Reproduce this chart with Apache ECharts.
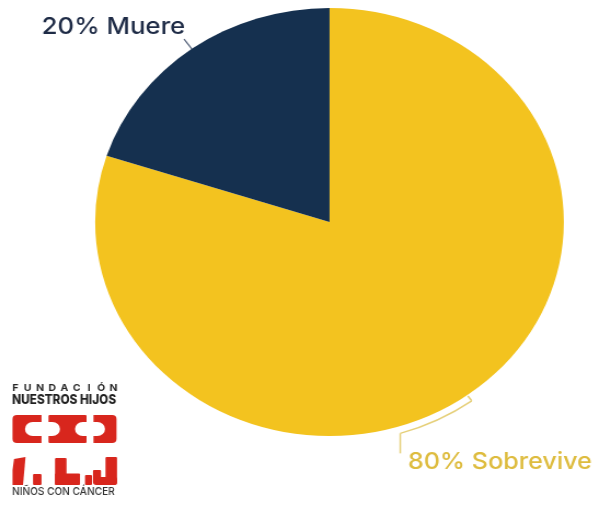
<!DOCTYPE html>
<html>
<head>
<meta charset="utf-8">
<script src="https://cdn.jsdelivr.net/npm/echarts@6/dist/echarts.min.js"></script>
<style>
  html, body { margin: 0; padding: 0; background: #fff; overflow: hidden; }
  #wrap { width: 595px; height: 506px; overflow: hidden; position: relative; }
  #chart { position: absolute; left: 0; top: 0; height: 506px; transform-origin: 0 0; }
</style>
</head>
<body>
<div id="wrap"><div id="chart"></div></div>
<script>
// Survival share of children with cancer
const categories = ['Sobrevive', 'Muere'];
const shares = [80, 20];

// Styling
const sliceColors = ['#F3C31F', '#15304F'];
const labelColors = ['#DEBC3E', '#1E2B46'];
const labelSizes = [23, 23.5];
const STRETCH = 1.095;            // the figure is drawn wider than tall
const W = 595, H = 506;

const el = document.getElementById('chart');
el.style.width = (W / STRETCH) + 'px';
el.style.transform = 'scaleX(' + STRETCH + ')';
const sx = v => v / STRETCH;      // page x -> chart x

const CX = sx(329.5), CY = 222, R = 214;

// clockwise angle (deg, from 12 o'clock) at the middle of each slice
const total = shares.reduce((a, b) => a + b, 0);
let acc = 0;
const midAngles = shares.map(v => { const m = acc + v / 2; acc += v; return m / total * 360; });
const polar = (deg, r) => {
  const a = deg * Math.PI / 180;
  return [CX + r * Math.sin(a), CY - r * Math.cos(a)];
};

// leader for the small slice: short radial stroke
const mLead0 = polar(midAngles[1], R);
const mLead1 = polar(midAngles[1], R + 12);

// bracket for the large slice: arc hugging the rim, then a drop
const arcR = R + 7, sweep = 19;
const bStart = midAngles[0], bEnd = midAngles[0] + sweep;
const tick0 = polar(bStart, R + 1), tick1 = polar(bStart, arcR);
const arcEnd = polar(bEnd, arcR);
const drop = 20;

const labelAnchors = [
  { x: arcEnd[0] + 7, y: arcEnd[1] + drop + 9, align: 'left' },
  { x: mLead1[0] + 1, y: mLead1[1] - 12, align: 'right' }
];

// logo pieces (page coordinates)
const RED = '#D8261D';
function rect(x, y, w, h, r, fill) {
  return { type: 'rect', silent: true, shape: { x: sx(x), y: y, width: sx(w), height: h, r: r || 0 }, style: { fill: fill || RED } };
}
function poly(pts, fill) {
  return { type: 'polygon', silent: true, shape: { points: pts.map(p => [sx(p[0]), p[1]]) }, style: { fill: fill || RED } };
}
const logo = [];
const fundLetters = 'FUNDACIÓN'.split('');
fundLetters.forEach((ch, i) => {
  logo.push({
    type: 'text', silent: true,
    x: sx(15.5 + i * (98 / (fundLetters.length - 1))), y: 388.5,
    style: { text: ch, fill: '#262626', font: '700 9.5px Inter', align: 'center', verticalAlign: 'middle' }
  });
});
logo.push({
  type: 'text', silent: true, x: sx(12), y: 400.5, scaleX: 0.83,
  style: { text: 'NUESTROS HIJOS', fill: '#1f1f1f', font: '800 13px Inter', align: 'left', verticalAlign: 'middle' }
});
logo.push({
  type: 'text', silent: true, x: sx(12), y: 492, scaleX: 0.84,
  style: { text: 'NIÑOS CON CÁNCER', fill: '#333333', font: '500 11px Inter', align: 'left', verticalAlign: 'middle' }
});
// top row: ( I )
logo.push(rect(12.5, 415, 29, 28, [4, 0, 0, 4]));
logo.push(rect(25, 422, 17, 14, [7, 0, 0, 7], '#fff'));
logo.push(rect(48.5, 415, 38, 28, 1));
logo.push(rect(47, 422, 13, 14, [0, 7, 7, 0], '#fff'));
logo.push(rect(75, 422, 13, 14, [7, 0, 0, 7], '#fff'));
logo.push(rect(93.5, 415, 23, 28, [0, 4, 4, 0]));
logo.push(rect(92, 422, 13, 14, [0, 7, 7, 0], '#fff'));
// bottom row: / . L . J
logo.push(poly([[14, 459], [25.5, 457], [23, 485], [12.5, 485], [12.5, 470]]));
logo.push(rect(33, 474, 8.5, 11, 1));
logo.push(rect(55, 458, 11.5, 27, 1));
logo.push(rect(55, 473.5, 25, 11.5, 1));
logo.push(rect(85, 475, 7, 10, 1));
logo.push(rect(105.5, 457, 11.5, 28, [1, 1, 3, 1]));
logo.push(rect(95, 477, 22, 8, 2));
logo.push(rect(93, 470, 8, 15, [1, 1, 1, 3]));

const chart = echarts.init(el, null, { renderer: 'canvas' });
chart.setOption({
  animation: false,
  backgroundColor: '#ffffff',
  color: sliceColors,
  series: [{
    type: 'pie',
    center: [CX, CY],
    radius: R,
    startAngle: 90,
    clockwise: true,
    avoidLabelOverlap: false,
    silent: true,
    itemStyle: { borderWidth: 0 },
    emphasis: { disabled: true },
    label: {
      show: true,
      position: 'outside',
      fontFamily: 'Inter',
      fontWeight: 500,
      formatter: p => p.value + '% ' + p.name
    },
    labelLine: { show: false },
    labelLayout: p => {
      const a = labelAnchors[p.dataIndex];
      return { x: a.x, y: a.y, align: a.align, verticalAlign: 'middle' };
    },
    data: categories.map((name, i) => ({
      name, value: shares[i],
      label: { color: labelColors[i], fontSize: labelSizes[i] }
    }))
  }],
  graphic: [
    { type: 'line', silent: true, shape: { x1: mLead0[0], y1: mLead0[1], x2: mLead1[0], y2: mLead1[1] },
      style: { stroke: '#55627a', lineWidth: 1.2 } },
    { type: 'line', silent: true, shape: { x1: tick0[0], y1: tick0[1], x2: tick1[0], y2: tick1[1] },
      style: { stroke: '#E6D07A', lineWidth: 1.5 } },
    { type: 'arc', silent: true,
      shape: { cx: CX, cy: CY, r: arcR, startAngle: (bStart - 90) * Math.PI / 180, endAngle: (bEnd - 90) * Math.PI / 180, clockwise: true },
      style: { stroke: '#E6D07A', lineWidth: 1.5, fill: null } },
    { type: 'line', silent: true, shape: { x1: arcEnd[0], y1: arcEnd[1], x2: arcEnd[0], y2: arcEnd[1] + drop },
      style: { stroke: '#E6D07A', lineWidth: 1.5 } }
  ].concat(logo)
});
</script>
</body>
</html>
